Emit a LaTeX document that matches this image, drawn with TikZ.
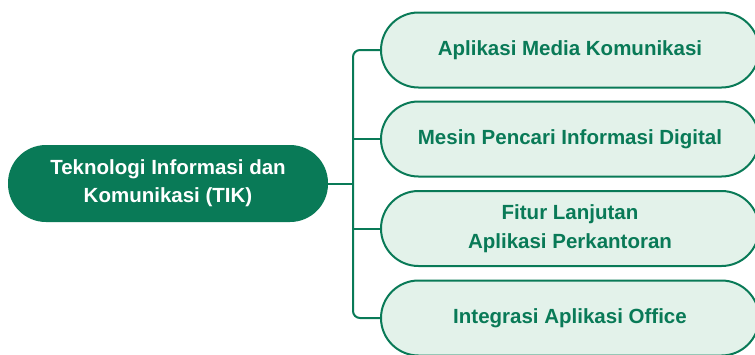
\documentclass[tikz,border=0pt]{standalone}
\usepackage{fontspec}
\setmainfont{Liberation Sans}
\definecolor{dgreen}{HTML}{097A57}
\definecolor{lgreen}{HTML}{E3F2EA}
\begin{document}
\begin{tikzpicture}[x=1pt,y=-1pt,
  mainbox/.style={rectangle,rounded corners=38pt,fill=dgreen,minimum width=320pt,minimum height=77pt,
    text=white,font=\fontsize{20.5}{28}\selectfont\bfseries,align=center,inner sep=0pt},
  subbox/.style={rectangle,rounded corners=37.5pt,fill=lgreen,draw=dgreen,line width=2pt,minimum width=378pt,minimum height=75pt,
    text=dgreen,font=\fontsize{20.5}{29}\selectfont\bfseries,align=center,inner sep=0pt},
  conn/.style={draw=dgreen,line width=2pt}]
\useasboundingbox (0,0) rectangle (755,354);
\clip (0,0) rectangle (755,354);
\fill[white] (0,0) rectangle (755,354);
\node[mainbox] (L) at (168,183.5) {Teknologi Informasi dan\\Komunikasi (TIK)};
\node[subbox] (n1) at (570,50) {Aplikasi Media Komunikasi};
\node[subbox] (n2) at (570,139) {Mesin Pencari Informasi Digital};
\node[subbox] (n3) at (570,228.5) {Fitur Lanjutan\\Aplikasi Perkantoran};
\node[subbox] (n4) at (570,318) {Integrasi Aplikasi Office};
\coordinate (tk) at (353,183.5);
\draw[conn,rounded corners=7pt] (n1.west) -| (tk) |- (n4.west);
\draw[conn] (L.east) -- (tk);
\draw[conn] (n2.west) -- (n2.west -| tk);
\draw[conn] (n3.west) -- (n3.west -| tk);
\end{tikzpicture}
\end{document}
